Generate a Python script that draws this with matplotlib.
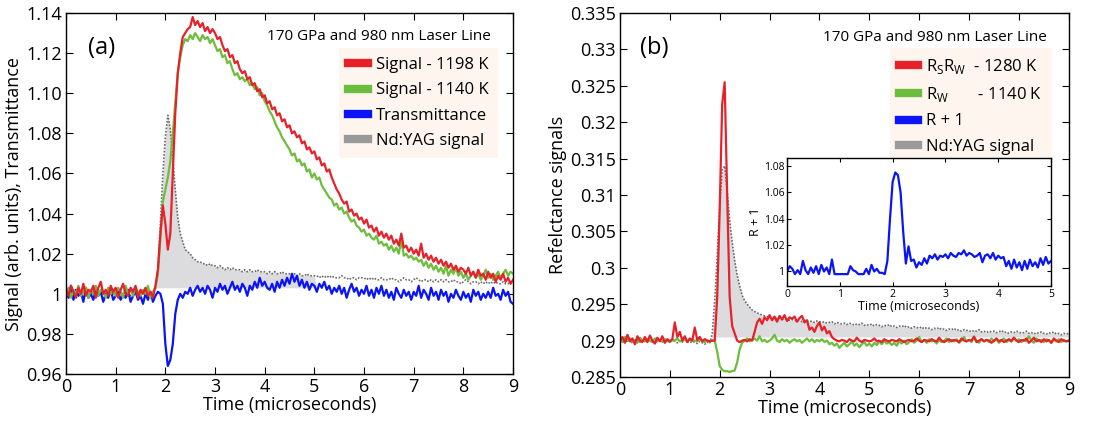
import numpy as np
import matplotlib
matplotlib.use('Agg')
import matplotlib.pyplot as plt
from matplotlib.ticker import FuncFormatter
from matplotlib.lines import Line2D

plt.rcParams['font.family'] = ['Open Sans', 'DejaVu Sans']
plt.rcParams['mathtext.fontset'] = 'custom'
plt.rcParams['mathtext.rm'] = 'Open Sans'

# ---- panel (a) data, sampled every 0.05 us from 0 to 9 ----
red_a = [
    1.002, 0.999, 1.004, 1.001, 0.998, 1.003, 1.000, 1.005, 0.999, 1.002,
    1.001, 1.004, 0.998, 1.003, 1.006, 1.000, 1.002, 0.999, 1.004, 1.001,
    1.003, 0.998, 1.002, 1.005, 1.000, 0.999, 1.003, 1.001, 1.004, 0.998,
    1.002, 1.000, 1.003, 0.999, 1.001, 0.998, 1.004, 1.012, 1.030, 1.044,
    1.035, 1.022, 1.030, 1.060, 1.090, 1.110, 1.120, 1.128, 1.130, 1.132,
    1.133, 1.138, 1.134, 1.136, 1.133, 1.135, 1.131, 1.133, 1.130, 1.132,
    1.130, 1.127, 1.128, 1.124, 1.121, 1.122, 1.118, 1.119, 1.115, 1.116,
    1.112, 1.110, 1.111, 1.107, 1.108, 1.104, 1.105, 1.101, 1.102, 1.098,
    1.099, 1.095, 1.096, 1.092, 1.093, 1.089, 1.090, 1.086, 1.087, 1.083,
    1.084, 1.080, 1.081, 1.078, 1.079, 1.075, 1.076, 1.072, 1.073, 1.070,
    1.071, 1.067, 1.068, 1.064, 1.065, 1.061, 1.062, 1.058, 1.055, 1.052,
    1.050, 1.047, 1.045, 1.046, 1.041, 1.042, 1.039, 1.040, 1.037, 1.038,
    1.035, 1.037, 1.033, 1.034, 1.031, 1.033, 1.029, 1.031, 1.028, 1.030,
    1.027, 1.029, 1.025, 1.027, 1.024, 1.030, 1.023, 1.024, 1.021, 1.023,
    1.020, 1.022, 1.019, 1.025, 1.018, 1.020, 1.017, 1.019, 1.016, 1.018,
    1.015, 1.017, 1.014, 1.016, 1.013, 1.015, 1.012, 1.014, 1.011, 1.013,
    1.012, 1.010, 1.013, 1.009, 1.011, 1.008, 1.012, 1.009, 1.010, 1.007,
    1.011, 1.008, 1.010, 1.006, 1.009, 1.007, 1.010, 1.006, 1.008, 1.005,
    1.007]

green_a = [
    1.000, 1.003, 0.998, 1.002, 1.000, 1.004, 0.999, 1.001, 1.003, 0.998,
    1.002, 1.000, 1.004, 0.999, 1.002, 1.001, 0.998, 1.003, 1.000, 1.002,
    0.999, 1.003, 1.001, 0.998, 1.004, 1.000, 1.002, 0.999, 1.003, 1.001,
    0.999, 1.002, 1.000, 1.004, 0.998, 1.001, 1.003, 1.010, 1.028, 1.046,
    1.052, 1.058, 1.066, 1.080, 1.095, 1.110, 1.118, 1.124, 1.127, 1.126,
    1.129, 1.127, 1.130, 1.128, 1.126, 1.129, 1.127, 1.128, 1.125, 1.127,
    1.124, 1.121, 1.122, 1.118, 1.119, 1.115, 1.116, 1.112, 1.109, 1.110,
    1.107, 1.108, 1.106, 1.107, 1.104, 1.105, 1.102, 1.103, 1.099, 1.100,
    1.096, 1.094, 1.091, 1.089, 1.086, 1.083, 1.081, 1.078, 1.076, 1.074,
    1.072, 1.069, 1.070, 1.066, 1.067, 1.064, 1.065, 1.061, 1.062, 1.058,
    1.060, 1.057, 1.058, 1.054, 1.052, 1.050, 1.048, 1.047, 1.044, 1.045,
    1.042, 1.043, 1.040, 1.041, 1.038, 1.036, 1.037, 1.034, 1.033, 1.031,
    1.032, 1.029, 1.030, 1.028, 1.027, 1.029, 1.025, 1.026, 1.024, 1.025,
    1.022, 1.024, 1.021, 1.023, 1.020, 1.027, 1.019, 1.020, 1.018, 1.019,
    1.017, 1.018, 1.016, 1.017, 1.014, 1.016, 1.013, 1.015, 1.012, 1.014,
    1.011, 1.013, 1.010, 1.014, 1.009, 1.012, 1.010, 1.013, 1.009, 1.011,
    1.008, 1.010, 1.007, 1.009, 1.011, 1.008, 1.010, 1.007, 1.009, 1.012,
    1.008, 1.010, 1.007, 1.009, 1.011, 1.008, 1.010, 1.012, 1.009, 1.011,
    1.010]

blue_a = [
    1.001, 0.998, 1.004, 0.997, 1.002, 0.999, 1.001, 0.996, 1.003, 0.998,
    1.000, 0.997, 1.002, 0.999, 1.001, 0.996, 1.000, 0.998, 1.002, 0.997,
    0.999, 1.001, 0.997, 1.000, 0.998, 1.002, 0.996, 0.999, 1.001, 0.997,
    0.999, 0.995, 1.000, 0.997, 1.001, 0.996, 0.999, 1.001, 1.000, 0.995,
    0.975, 0.964, 0.967, 0.975, 0.990, 0.997, 1.000, 0.998, 1.001, 1.000,
    1.003, 0.999, 1.002, 1.004, 1.001, 1.003, 1.000, 1.004, 1.002, 0.998,
    1.003, 1.001, 1.005, 1.002, 1.004, 1.000, 1.003, 1.006, 1.002, 1.004,
    1.001, 1.005, 1.003, 0.999, 1.004, 1.002, 1.006, 1.003, 1.008, 1.004,
    1.006, 1.003, 1.002, 1.005, 1.001, 1.006, 1.003, 1.007, 1.004, 1.008,
    1.005, 1.010, 1.006, 1.009, 1.004, 1.007, 1.003, 1.006, 1.002, 1.005,
    1.004, 1.001, 1.005, 1.003, 1.006, 1.002, 1.004, 1.000, 1.003, 1.001,
    1.004, 1.000, 1.003, 0.998, 1.002, 1.005, 1.001, 1.003, 0.999, 1.002,
    1.000, 1.004, 0.999, 1.002, 0.998, 1.003, 1.000, 1.004, 0.999, 1.002,
    0.998, 1.001, 0.997, 1.003, 1.000, 0.998, 1.002, 0.999, 1.001, 0.997,
    1.001, 0.999, 1.004, 0.998, 1.002, 1.000, 0.997, 1.003, 0.999, 1.001,
    0.997, 1.002, 0.999, 1.001, 0.996, 1.000, 0.998, 1.002, 0.999, 0.997,
    1.001, 0.998, 1.000, 0.996, 1.002, 0.999, 1.001, 0.997, 1.000, 0.998,
    1.001, 0.998, 1.003, 0.999, 1.000, 0.997, 1.002, 0.999, 1.001, 0.996,
    0.995]

yag_a = [
    1.000, 1.001, 0.999, 1.000, 1.001, 1.000, 0.999, 1.001, 1.000, 1.000,
    1.001, 1.000, 0.999, 1.000, 1.001, 1.000, 1.000, 0.999, 1.001, 1.000,
    1.000, 0.999, 1.001, 1.000, 1.000, 1.001, 0.999, 1.000, 1.001, 1.000,
    1.000, 1.001, 1.000, 0.999, 1.000, 1.001, 1.002, 1.012, 1.035, 1.060,
    1.078, 1.089, 1.082, 1.068, 1.052, 1.038, 1.030, 1.026, 1.022, 1.021,
    1.020, 1.018, 1.017, 1.016, 1.016, 1.015, 1.015, 1.014, 1.015, 1.014,
    1.014, 1.013, 1.014, 1.013, 1.012, 1.013, 1.012, 1.013, 1.012, 1.012,
    1.012, 1.011, 1.012, 1.011, 1.012, 1.011, 1.011, 1.012, 1.011, 1.011,
    1.011, 1.010, 1.011, 1.010, 1.011, 1.010, 1.010, 1.011, 1.010, 1.010,
    1.010, 1.009, 1.010, 1.009, 1.010, 1.009, 1.009, 1.010, 1.009, 1.009,
    1.009, 1.009, 1.008, 1.009, 1.008, 1.009, 1.008, 1.009, 1.008, 1.008,
    1.008, 1.009, 1.008, 1.008, 1.007, 1.008, 1.008, 1.007, 1.008, 1.008,
    1.008, 1.007, 1.008, 1.007, 1.008, 1.007, 1.007, 1.008, 1.007, 1.007,
    1.007, 1.008, 1.007, 1.007, 1.006, 1.007, 1.008, 1.007, 1.007, 1.006,
    1.007, 1.008, 1.007, 1.006, 1.007, 1.007, 1.006, 1.007, 1.006, 1.007,
    1.006, 1.007, 1.006, 1.007, 1.006, 1.006, 1.007, 1.006, 1.006, 1.005,
    1.006, 1.007, 1.006, 1.005, 1.006, 1.006, 1.005, 1.006, 1.005, 1.006,
    1.005, 1.006, 1.005, 1.006, 1.005, 1.005, 1.006, 1.005, 1.005, 1.006,
    1.005]

# ---- panel (b) data, sampled every 0.05 us from 0 to 9 ----
red_b = [
    0.2900, 0.2905, 0.2897, 0.2908, 0.2899, 0.2903, 0.2895, 0.2906, 0.2900, 0.2898,
    0.2905, 0.2898, 0.2907, 0.2900, 0.2896, 0.2904, 0.2899, 0.2906, 0.2897, 0.2902,
    0.2899, 0.2902, 0.2925, 0.2905, 0.2912, 0.2900, 0.2906, 0.2898, 0.2903, 0.2900,
    0.2918, 0.2901, 0.2905, 0.2899, 0.2902, 0.2900, 0.2899, 0.2900, 0.2900, 0.2960,
    0.3080, 0.3225, 0.3255, 0.3100, 0.2960, 0.2920, 0.2910, 0.2900, 0.2898, 0.2900,
    0.2901, 0.2899, 0.2902, 0.2900, 0.2912, 0.2925, 0.2930, 0.2923, 0.2932, 0.2928,
    0.2935, 0.2928, 0.2933, 0.2926, 0.2934, 0.2929, 0.2935, 0.2927, 0.2932, 0.2930,
    0.2933, 0.2926, 0.2931, 0.2934, 0.2925, 0.2928, 0.2915, 0.2918, 0.2912, 0.2920,
    0.2925, 0.2914, 0.2919, 0.2910, 0.2913, 0.2905, 0.2902, 0.2900, 0.2899, 0.2901,
    0.2900, 0.2898, 0.2902, 0.2900, 0.2899, 0.2904, 0.2900, 0.2898, 0.2901, 0.2900,
    0.2899, 0.2900, 0.2903, 0.2899, 0.2900, 0.2898, 0.2902, 0.2900, 0.2899, 0.2901,
    0.2900, 0.2899, 0.2902, 0.2900, 0.2898, 0.2900, 0.2901, 0.2899, 0.2900, 0.2903,
    0.2900, 0.2898, 0.2901, 0.2900, 0.2899, 0.2902, 0.2900, 0.2899, 0.2904, 0.2900,
    0.2898, 0.2900, 0.2902, 0.2899, 0.2901, 0.2900, 0.2898, 0.2903, 0.2900, 0.2899,
    0.2901, 0.2900, 0.2905, 0.2898, 0.2900, 0.2902, 0.2899, 0.2901, 0.2900, 0.2897,
    0.2900, 0.2903, 0.2899, 0.2901, 0.2898, 0.2900, 0.2902, 0.2899, 0.2904, 0.2900,
    0.2898, 0.2901, 0.2900, 0.2903, 0.2897, 0.2900, 0.2904, 0.2899, 0.2901, 0.2898,
    0.2902, 0.2899, 0.2901, 0.2897, 0.2903, 0.2900, 0.2898, 0.2902, 0.2900, 0.2899,
    0.2900]

green_b = [
    0.2902, 0.2898, 0.2905, 0.2900, 0.2903, 0.2899, 0.2901, 0.2897, 0.2904, 0.2900,
    0.2899, 0.2902, 0.2900, 0.2898, 0.2903, 0.2900, 0.2901, 0.2899, 0.2902, 0.2900,
    0.2898, 0.2901, 0.2900, 0.2903, 0.2899, 0.2900, 0.2902, 0.2899, 0.2901, 0.2900,
    0.2900, 0.2899, 0.2901, 0.2900, 0.2898, 0.2900, 0.2899, 0.2900, 0.2900, 0.2885,
    0.2865, 0.2860, 0.2858, 0.2858, 0.2857, 0.2858, 0.2859, 0.2870, 0.2888, 0.2897,
    0.2900, 0.2903, 0.2899, 0.2901, 0.2903, 0.2900, 0.2906, 0.2899, 0.2901, 0.2898,
    0.2900, 0.2903, 0.2908, 0.2900, 0.2898, 0.2902, 0.2899, 0.2901, 0.2897, 0.2900,
    0.2902, 0.2899, 0.2901, 0.2897, 0.2900, 0.2903, 0.2899, 0.2902, 0.2898, 0.2901,
    0.2899, 0.2902, 0.2898, 0.2900, 0.2895, 0.2897, 0.2893, 0.2896, 0.2890, 0.2894,
    0.2897, 0.2892, 0.2895, 0.2899, 0.2893, 0.2896, 0.2891, 0.2895, 0.2898, 0.2893,
    0.2896, 0.2892, 0.2897, 0.2894, 0.2899, 0.2895, 0.2900, 0.2896, 0.2898, 0.2894,
    0.2897, 0.2893, 0.2899, 0.2896, 0.2900, 0.2895, 0.2898, 0.2902, 0.2897, 0.2900,
    0.2905, 0.2898, 0.2901, 0.2897, 0.2902, 0.2899, 0.2900, 0.2896, 0.2901, 0.2898,
    0.2900, 0.2903, 0.2898, 0.2901, 0.2899, 0.2902, 0.2897, 0.2900, 0.2905, 0.2899,
    0.2901, 0.2898, 0.2906, 0.2900, 0.2897, 0.2902, 0.2899, 0.2901, 0.2898, 0.2903,
    0.2899, 0.2902, 0.2897, 0.2900, 0.2903, 0.2898, 0.2901, 0.2899, 0.2904, 0.2900,
    0.2902, 0.2898, 0.2901, 0.2899, 0.2906, 0.2900, 0.2897, 0.2903, 0.2899, 0.2901,
    0.2898, 0.2902, 0.2900, 0.2897, 0.2901, 0.2899, 0.2902, 0.2898, 0.2901, 0.2899,
    0.2900]

yag_b = [
    0.2900, 0.2898, 0.2901, 0.2899, 0.2900, 0.2897, 0.2899, 0.2901, 0.2898, 0.2900,
    0.2899, 0.2901, 0.2898, 0.2900, 0.2897, 0.2899, 0.2900, 0.2898, 0.2901, 0.2899,
    0.2898, 0.2900, 0.2899, 0.2897, 0.2900, 0.2898, 0.2901, 0.2899, 0.2897, 0.2899,
    0.2898, 0.2896, 0.2899, 0.2897, 0.2895, 0.2898, 0.2896, 0.2910, 0.2955, 0.3015,
    0.3085, 0.3135, 0.3140, 0.3105, 0.3065, 0.3035, 0.3010, 0.2990, 0.2975, 0.2962,
    0.2955, 0.2950, 0.2946, 0.2942, 0.2940, 0.2938, 0.2937, 0.2935, 0.2934, 0.2933,
    0.2932, 0.2931, 0.2932, 0.2930, 0.2931, 0.2929, 0.2930, 0.2929, 0.2928, 0.2929,
    0.2928, 0.2927, 0.2928, 0.2926, 0.2928, 0.2927, 0.2926, 0.2927, 0.2925, 0.2927,
    0.2926, 0.2925, 0.2926, 0.2924, 0.2925, 0.2926, 0.2923, 0.2925, 0.2924, 0.2923,
    0.2924, 0.2922, 0.2924, 0.2923, 0.2921, 0.2923, 0.2922, 0.2924, 0.2921, 0.2922,
    0.2921, 0.2923, 0.2920, 0.2922, 0.2921, 0.2919, 0.2921, 0.2920, 0.2922, 0.2919,
    0.2920, 0.2918, 0.2920, 0.2919, 0.2921, 0.2918, 0.2919, 0.2917, 0.2919, 0.2918,
    0.2917, 0.2919, 0.2916, 0.2918, 0.2917, 0.2915, 0.2917, 0.2916, 0.2918, 0.2915,
    0.2916, 0.2914, 0.2916, 0.2915, 0.2917, 0.2914, 0.2915, 0.2913, 0.2915, 0.2914,
    0.2914, 0.2912, 0.2914, 0.2913, 0.2915, 0.2912, 0.2913, 0.2911, 0.2913, 0.2912,
    0.2913, 0.2911, 0.2912, 0.2914, 0.2911, 0.2912, 0.2910, 0.2912, 0.2911, 0.2913,
    0.2912, 0.2910, 0.2911, 0.2913, 0.2910, 0.2911, 0.2909, 0.2911, 0.2910, 0.2912,
    0.2910, 0.2909, 0.2911, 0.2910, 0.2912, 0.2909, 0.2910, 0.2908, 0.2910, 0.2909,
    0.2910]

# ---- inset: R + 1, sampled every 0.05 us from 0 to 5 ----
r1_inset = [
    1.000, 1.004, 1.002, 0.998, 1.001, 0.998, 1.008, 1.001, 0.998, 1.003,
    0.999, 1.004, 0.998, 1.005, 1.000, 1.003, 0.998, 1.009, 0.998, 0.998,
    0.998, 0.998, 0.998, 0.998, 1.004, 1.001, 1.000, 0.998, 0.998, 0.998,
    1.002, 0.998, 1.005, 1.000, 1.002, 0.999, 0.999, 0.998, 1.008, 1.040,
    1.068, 1.075, 1.073, 1.060, 1.030, 1.006, 1.019, 1.008, 1.009, 1.003,
    1.007, 1.005, 1.010, 1.006, 1.012, 1.010, 1.013, 1.009, 1.012, 1.011,
    1.013, 1.010, 1.014, 1.012, 1.011, 1.014, 1.013, 1.016, 1.012, 1.014,
    1.013, 1.011, 1.012, 1.014, 1.007, 1.012, 1.013, 1.010, 1.014, 1.009,
    1.012, 1.010, 1.011, 1.004, 1.008, 1.002, 1.009, 1.003, 1.007, 1.001,
    1.008, 1.002, 1.009, 1.004, 1.007, 1.003, 1.010, 1.005, 1.011, 1.006,
    1.008]

RED = '#e8202a'
GREEN = '#6cbd3c'
BLUE = '#0a14f5'
GRAY = '#6a6a6a'
FILL = '#dcdcdf'
LEG_BG = '#fdf5ee'


def tvec(vals, tmax):
    return np.linspace(0, tmax, len(vals))


def style_axes(ax, size=13):
    ax.tick_params(direction='in', top=True, right=True, length=5,
                   labelsize=size, pad=3)
    for s in ax.spines.values():
        s.set_linewidth(1.0)


def add_legend(ax, labels, anchor):
    handles = [Line2D([], [], color=c, lw=6) for c in (RED, GREEN, BLUE, '#9a9a9a')]
    leg = ax.legend(handles, labels, loc='upper right', bbox_to_anchor=anchor,
                    borderaxespad=0, fontsize=12, frameon=True, fancybox=False,
                    handlelength=1.15, handletextpad=0.5, labelspacing=0.55,
                    borderpad=0.55)
    leg.get_frame().set_facecolor(LEG_BG)
    leg.get_frame().set_edgecolor('none')
    leg.get_frame().set_alpha(1)
    return leg


fig = plt.figure(figsize=(11, 4.23), dpi=100)

# ---------------- panel (a) ----------------
ax1 = fig.add_axes([0.06, 0.1158, 0.4064, 0.8534])
t = tvec(yag_a, 9)
ya = np.array(yag_a)
ax1.fill_between(t, 1.003, ya, where=(ya > 1.003) & (t <= 5.0), color=FILL, lw=0,
                 interpolate=True)
ax1.plot(t, ya, linestyle=(0, (1, 1)), color=GRAY, lw=1.2)
ax1.plot(tvec(blue_a, 9), blue_a, color=BLUE, lw=1.6)
ax1.plot(tvec(green_a, 9), green_a, color=GREEN, lw=1.6)
ax1.plot(tvec(red_a, 9), red_a, color=RED, lw=1.6)
ax1.set_xlim(0, 9)
ax1.set_ylim(0.96, 1.14)
ax1.set_xticks(range(0, 10))
ax1.set_yticks(np.arange(0.96, 1.1401, 0.02))
ax1.yaxis.set_major_formatter(FuncFormatter(
    lambda v, p: '1' if abs(v - 1) < 1e-9 else '%.2f' % v))
style_axes(ax1)
ax1.set_xlabel('Time (microseconds)', fontsize=13, labelpad=0)
ax1.set_ylabel('Signal (arb. units), Transmittance', fontsize=13, labelpad=2)
ax1.text(0.05, 0.903, '(a)', transform=ax1.transAxes, fontsize=17, va='center')
ax1.text(0.951, 0.934, '170 GPa and 980 nm Laser Line', transform=ax1.transAxes,
         fontsize=11, ha='right', va='center')
add_legend(ax1, ['Signal - 1198 K', 'Signal - 1140 K', 'Transmittance',
                 'Nd:YAG signal'], (0.966, 0.903))

# ---------------- panel (b) ----------------
ax2 = fig.add_axes([0.5636, 0.1087, 0.408, 0.8605])
t = tvec(yag_b, 9)
yb = np.array(yag_b)
ax2.fill_between(t, 0.2905, yb, where=yb > 0.2905, color=FILL, lw=0, interpolate=True)
ax2.plot(t, yb, linestyle=(0, (1, 1)), color=GRAY, lw=1.2)
ax2.plot(tvec(green_b, 9), green_b, color=GREEN, lw=1.6)
ax2.plot(tvec(red_b, 9), red_b, color=RED, lw=1.6)
ax2.set_xlim(0, 9)
ax2.set_ylim(0.285, 0.335)
ax2.set_xticks(range(0, 10))
ax2.set_yticks(np.arange(0.285, 0.33501, 0.005))
ax2.yaxis.set_major_formatter(FuncFormatter(lambda v, p: '%g' % round(v, 4)))
style_axes(ax2)
ax2.set_xlabel('Time (microseconds)', fontsize=13, labelpad=0)
ax2.set_ylabel('Refelctance signals', fontsize=13, labelpad=2)
ax2.text(0.045, 0.903, '(b)', transform=ax2.transAxes, fontsize=17, va='center')
ax2.text(0.951, 0.934, '170 GPa and 980 nm Laser Line', transform=ax2.transAxes,
         fontsize=11, ha='right', va='center')
add_legend(ax2, [r'R$_\mathregular{S}$R$_\mathregular{W}$  - 1280 K',
                 r'R$_\mathregular{W}$       - 1140 K',
                 'R + 1', 'Nd:YAG signal'], (0.962, 0.904))

# ---------------- inset ----------------
ax3 = fig.add_axes([0.7155, 0.3239, 0.24, 0.3026])
ax3.plot(tvec(r1_inset, 5), r1_inset, color=BLUE, lw=1.6)
ax3.set_xlim(0, 5)
ax3.set_ylim(0.989, 1.086)
ax3.set_yticks([1.0, 1.02, 1.04, 1.06, 1.08])
ax3.yaxis.set_major_formatter(FuncFormatter(lambda v, p: '%g' % round(v, 3)))
style_axes(ax3, size=7.5)
ax3.tick_params(length=3, pad=2)
ax3.set_xlabel('Time (microseconds)', fontsize=9, labelpad=0)
ax3.set_ylabel('R + 1', fontsize=9, labelpad=1)

fig.savefig('out.png', dpi=100)
